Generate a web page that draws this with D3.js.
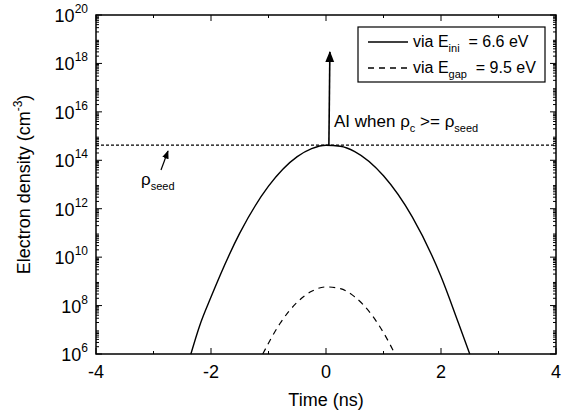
<!DOCTYPE html>
<html><head><meta charset="utf-8">
<script src="https://cdn.jsdelivr.net/npm/d3@7"></script>
<style>body{margin:0;background:#fff}text{font-family:Arial,"Liberation Sans",sans-serif}</style>
</head><body><div id="chart"></div>
<script>
// exponents of electron density (log10 cm^-3) vs time (ns)
const solidT = [-2.35, -2.2, -2.0, -1.5, -1.0, -0.5, -0.25, 0, 0.25, 0.5, 1.0, 1.5, 2.0, 2.3, 2.5];
const solidLog = [6.0, 7.15, 8.35, 10.99, 12.93, 14.15, 14.48, 14.62, 14.58, 14.36, 13.36, 11.66, 9.2, 7.3, 6.0];
const dashT = [-1.1, -0.8, -0.5, -0.25, 0, 0.25, 0.5, 0.8, 1.0, 1.2];
const dashLog = [6.0, 7.26, 8.14, 8.59, 8.77, 8.70, 8.36, 7.6, 6.88, 6.0];
const seedLog = 14.63;
const arrowTopLog = 18.47;
const peakT = 0.05;
const xTicks = [-4, -2, 0, 2, 4];
const yTicks = [6, 8, 10, 12, 14, 16, 18, 20];

const W = 562, H = 414, L = 96, R = 556, T = 15, B = 354;
const svg = d3.select('#chart').append('svg').attr('width', W).attr('height', H);
const x = d3.scaleLinear().domain([-4, 4]).range([L, R]);
const y = d3.scaleLinear().domain([6, 20]).range([B, T]);

svg.append('defs').append('marker').attr('id', 'ah').attr('viewBox', '0 0 10 10')
  .attr('refX', 9).attr('refY', 5).attr('markerWidth', 7).attr('markerHeight', 7)
  .attr('orient', 'auto').append('path').attr('d', 'M0,1 L10,5 L0,9 Z').attr('fill', '#000');

// minor ticks
const minorY = [];
for (let d = 6; d < 20; d++) for (let k = 2; k <= 9; k++) minorY.push(d + Math.log10(k));
const g = svg.append('g').attr('stroke', '#000');
minorY.forEach(v => {
  g.append('line').attr('x1', L).attr('x2', L + 3).attr('y1', y(v)).attr('y2', y(v));
  g.append('line').attr('x1', R).attr('x2', R - 3).attr('y1', y(v)).attr('y2', y(v));
});
yTicks.forEach(v => {
  g.append('line').attr('x1', L).attr('x2', L + 6).attr('y1', y(v)).attr('y2', y(v));
  g.append('line').attr('x1', R).attr('x2', R - 6).attr('y1', y(v)).attr('y2', y(v));
});
d3.range(-4, 5).forEach(v => {
  const len = v % 2 === 0 ? 6 : 3;
  g.append('line').attr('x1', x(v)).attr('x2', x(v)).attr('y1', B).attr('y2', B - len);
  g.append('line').attr('x1', x(v)).attr('x2', x(v)).attr('y1', T).attr('y2', T + len);
});
svg.append('rect').attr('x', L).attr('y', T).attr('width', R - L).attr('height', B - T)
  .attr('fill', 'none').attr('stroke', '#000').attr('stroke-width', 1.5);

// tick labels
svg.selectAll('.xl').data(xTicks).enter().append('text')
  .attr('x', d => x(d)).attr('y', B + 24).attr('text-anchor', 'middle').attr('font-size', 18).text(d => d);
const yl = svg.selectAll('.yl').data(yTicks).enter().append('text')
  .attr('x', L - 8).attr('y', d => y(d) + 7).attr('text-anchor', 'end').attr('font-size', 18);
yl.append('tspan').text('10');
yl.append('tspan').attr('font-size', 12).attr('dy', -9).text(d => d);

// axis titles
svg.append('text').attr('x', x(0)).attr('y', 406).attr('text-anchor', 'middle').attr('font-size', 18).text('Time (ns)');
const yt = svg.append('text').attr('transform', `translate(30,${(T + B) / 2}) rotate(-90)`)
  .attr('text-anchor', 'middle').attr('font-size', 18);
yt.append('tspan').text('Electron density (cm');
yt.append('tspan').attr('font-size', 12).attr('dy', -8).text('-3');
yt.append('tspan').attr('dy', 8).text(')');

// curves
const line = d3.line().x(d => x(d[0])).y(d => y(d[1])).curve(d3.curveMonotoneX);
svg.append('path').datum(solidT.map((t, i) => [t, solidLog[i]])).attr('d', line)
  .attr('fill', 'none').attr('stroke', '#000').attr('stroke-width', 1.4);
svg.append('path').datum(dashT.map((t, i) => [t, dashLog[i]])).attr('d', line)
  .attr('fill', 'none').attr('stroke', '#000').attr('stroke-width', 1.2).attr('stroke-dasharray', '6,5');

// seed line
svg.append('line').attr('x1', L).attr('x2', R).attr('y1', y(seedLog)).attr('y2', y(seedLog))
  .attr('stroke', '#000').attr('stroke-width', 1.2).attr('stroke-dasharray', '3,2');

// AI arrow
svg.append('line').attr('x1', x(peakT)).attr('x2', x(peakT) + 1).attr('y1', y(seedLog)).attr('y2', y(arrowTopLog))
  .attr('stroke', '#000').attr('stroke-width', 1.6).attr('marker-end', 'url(#ah)');
const ai = svg.append('text').attr('x', 334).attr('y', 127).attr('font-size', 17);
ai.append('tspan').text('AI when ρ');
ai.append('tspan').attr('font-size', 11).attr('dy', 5).text('c');
ai.append('tspan').attr('dy', -5).text(' >= ρ');
ai.append('tspan').attr('font-size', 11).attr('dy', 5).text('seed');

// rho seed label
svg.append('line').attr('x1', 161).attr('x2', 168).attr('y1', 170).attr('y2', 151)
  .attr('stroke', '#000').attr('stroke-width', 1.2).attr('marker-end', 'url(#ah)');
const rs = svg.append('text').attr('x', 141).attr('y', 185).attr('font-size', 17);
rs.append('tspan').text('ρ');
rs.append('tspan').attr('font-size', 11).attr('dy', 5).text('seed');

// legend
svg.append('rect').attr('x', 358).attr('y', 27).attr('width', 187).attr('height', 55)
  .attr('fill', '#fff').attr('stroke', '#000').attr('stroke-width', 1.2);
const legend = [
  { y: 42, dash: null, sub: 'ini', val: '= 6.6 eV' },
  { y: 68, dash: '6,5', sub: 'gap', val: '= 9.5 eV' }
];
legend.forEach(d => {
  svg.append('line').attr('x1', 368).attr('x2', 408).attr('y1', d.y).attr('y2', d.y)
    .attr('stroke', '#000').attr('stroke-width', 1.3).attr('stroke-dasharray', d.dash);
  const t = svg.append('text').attr('x', 413).attr('y', d.y + 5).attr('font-size', 16);
  t.append('tspan').text('via E');
  t.append('tspan').attr('font-size', 11).attr('dy', 5).text(d.sub);
  t.append('tspan').attr('dy', -5).text('  ' + d.val).attr('xml:space', 'preserve');
});
</script></body></html>
